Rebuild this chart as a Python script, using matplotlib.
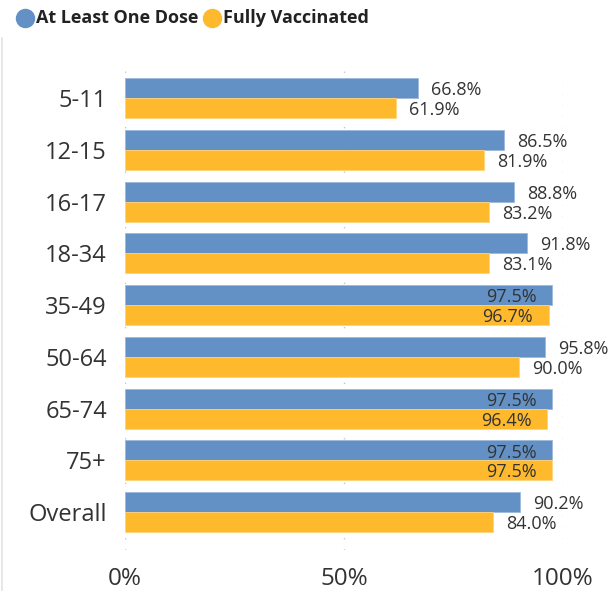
import matplotlib
matplotlib.use("Agg")
import matplotlib.pyplot as plt
from matplotlib.lines import Line2D
import numpy as np

categories = ["5-11", "12-15", "16-17", "18-34", "35-49", "50-64", "65-74", "75+", "Overall"]
one_dose = [66.8, 86.5, 88.8, 91.8, 97.5, 95.8, 97.5, 97.5, 90.2]
fully_vax = [61.9, 81.9, 83.2, 83.1, 96.7, 90.0, 96.4, 97.5, 84.0]
series_names = ["At Least One Dose", "Fully Vaccinated"]
xtick_vals = [0, 50, 100]
xtick_labels = ["0%", "50%", "100%"]

BLUE = "#6391C5"
YELLOW = "#FEBA2C"
TXT = "#333333"

plt.rcParams['font.family'] = ['Open Sans', 'DejaVu Sans']

W, H = 615, 591
fig = plt.figure(figsize=(W/100, H/100), dpi=100)
ax = fig.add_axes([125/W, 1-550/H, (563-125)/W, (550-66)/H])

y = np.arange(len(categories))
h = 0.386
ax.barh(y - h/2, one_dose, height=h, color=BLUE, edgecolor="#9db8dc", linewidth=0.6)
ax.barh(y + h/2, fully_vax, height=h, color=YELLOW, edgecolor="#ffd37a", linewidth=0.6)

def label(v, yy):
    s = f"{v:.1f}%"
    if v > 96:
        ax.text(v - 3.6, yy + 0.04, s, ha="right", va="center", fontsize=13, color=TXT, clip_on=False)
    else:
        ax.text(v + 3.0, yy + 0.04, s, ha="left", va="center", fontsize=13, color=TXT, clip_on=False)

for i in range(len(categories)):
    label(one_dose[i], y[i] - h/2)
    label(fully_vax[i], y[i] + h/2)

ax.set_xlim(0, 100)
ax.set_ylim(8.73, -0.618)
ax.set_yticks(y)
ax.set_yticklabels(categories, fontsize=17, color=TXT)
ax.set_xticks(xtick_vals)
ax.set_xticklabels(xtick_labels, fontsize=17.5, color=TXT)
ax.tick_params(axis="both", length=0)
ax.tick_params(axis="y", pad=13)
ax.tick_params(axis="x", pad=12)
for sp in ax.spines.values():
    sp.set_visible(False)
ax.set_axisbelow(True)
ax.grid(axis="x", linestyle=(0, (0.8, 7.2)), color="#b8b8b8", linewidth=1)
ax.grid(axis="y", visible=False)

# legend (manual layout)
renderer = fig.canvas.get_renderer()
x_px = 25
legend_colors = [BLUE, YELLOW]
for name, c in zip(series_names, legend_colors):
    fig.add_artist(Line2D([x_px/W], [1-18/H], marker="o", markersize=13, color=c,
                          linestyle="", transform=fig.transFigure))
    t = fig.text((x_px + 11)/W, 1-18/H, name, ha="left", va="center", fontsize=13,
                 fontweight="bold", color="#222222")
    bb = t.get_window_extent(renderer=renderer)
    x_px = bb.x1 + 14

# light frame on the left
fig.add_artist(Line2D([1.5/W, 1.5/W], [0, 1-38/H], color="#e3e3e3", linewidth=1.2,
                      transform=fig.transFigure))

fig.savefig("out.png", dpi=100)
